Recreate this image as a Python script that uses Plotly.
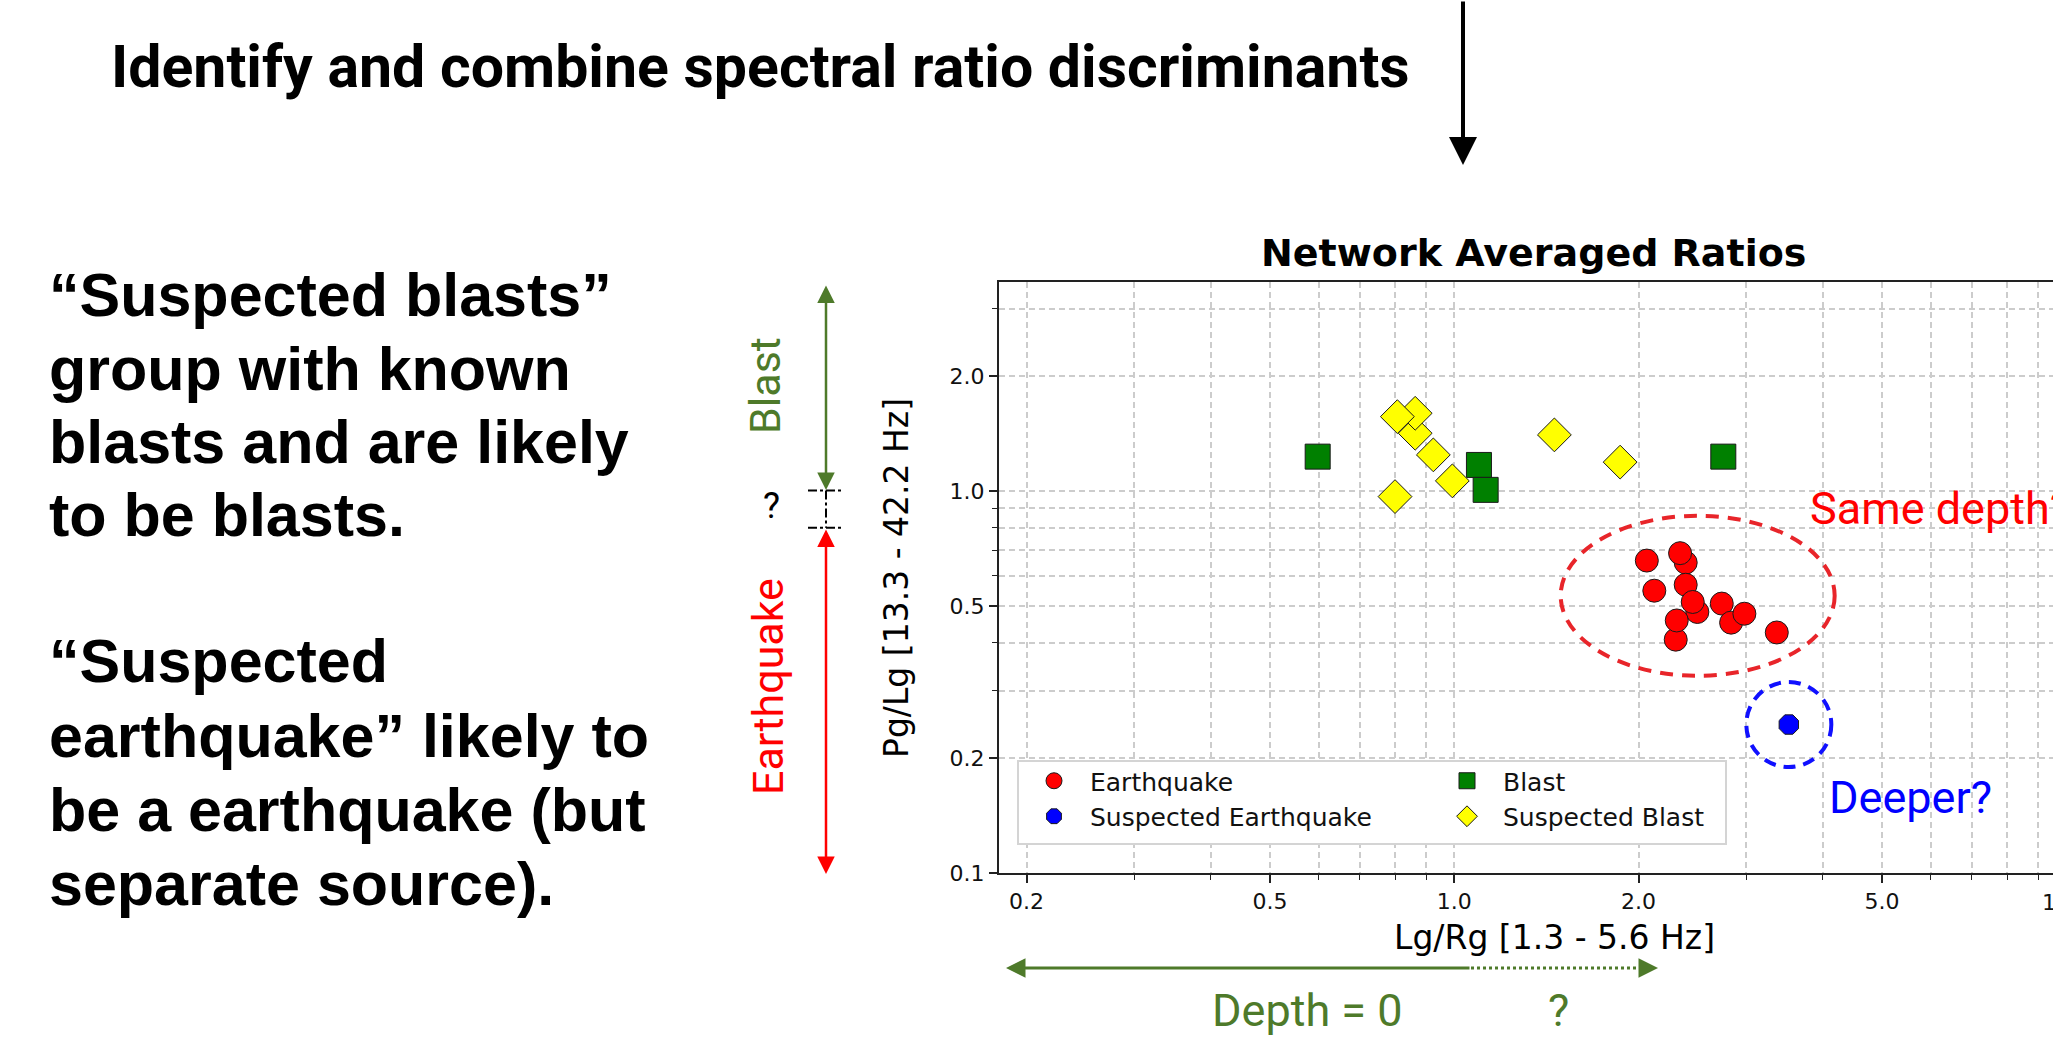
import numpy as np
import plotly.graph_objects as go

# ---------------- data ----------------
eq_x = [2.063, 2.122, 2.388, 2.338, 2.388, 2.495, 2.452, 2.300, 2.309, 2.735, 2.833, 2.978, 3.364]
eq_y = [0.657, 0.548, 0.649, 0.687, 0.568, 0.482, 0.512, 0.408, 0.458, 0.507, 0.452, 0.477, 0.426]

blast_x = [0.598, 1.097, 1.125, 2.751]
blast_y = [1.229, 1.169, 1.006, 1.229]

sblast_x = [0.863, 0.863, 0.807, 0.924, 0.9925, 0.800, 1.457, 1.866]
sblast_y = [1.415, 1.596, 1.564, 1.242, 1.062, 0.966, 1.401, 1.189]

seq_x = [3.52]
seq_y = [0.2446]

x_ticks = [0.2, 0.5, 1.0, 2.0, 5.0]
x_ticktext = ["0.2", "0.5", "1.0", "2.0", "5.0"]
x_minor = [0.3, 0.4, 0.6, 0.7, 0.8, 0.9, 3, 4, 6, 7, 8, 9]
y_ticks = [0.1, 0.2, 0.5, 1.0, 2.0]
y_ticktext = ["0.1", "0.2", "0.5", "1.0", "2.0"]
y_minor = [0.3, 0.4, 0.6, 0.7, 0.8, 0.9, 3.0]

x_lim = [0.1803, 9.51]
y_lim = [0.1, 3.52]

same_depth_center = (2.498, 0.5315)
deeper_center = (3.52, 0.2446)

# ---------------- geometry helpers ----------------
W, H = 2053, 1049
L, T, B, R = 999, 282, 873, 2053
PW, PH = R - L, B - T


def px(x):
    return (x - L) / PW


def py(y):
    return (B - y) / PH


def fx(v):
    a, b = np.log10(x_lim)
    return (np.log10(v) - a) / (b - a)


def fy(v):
    a, b = np.log10(y_lim)
    return (np.log10(v) - a) / (b - a)


NARROW = "Roboto, Liberation Sans, sans-serif"
GREEN = "#4E7A2A"

fig = go.Figure()

edge = dict(color="#1a1a1a", width=1)
fig.add_trace(go.Scatter(x=eq_x, y=eq_y, mode="markers", name="Earthquake", legend="legend",
                         marker=dict(symbol="circle", size=23, color="#FF0000", line=edge)))
fig.add_trace(go.Scatter(x=seq_x, y=seq_y, mode="markers", name="Suspected Earthquake",
                         legend="legend",
                         marker=dict(symbol="octagon", size=21, color="#0000FF", line=edge)))
fig.add_trace(go.Scatter(x=blast_x, y=blast_y, mode="markers", name="Blast", legend="legend2",
                         marker=dict(symbol="square", size=25, color="#008000", line=edge)))
fig.add_trace(go.Scatter(x=sblast_x, y=sblast_y, mode="markers", name="Suspected Blast",
                         legend="legend2",
                         marker=dict(symbol="diamond", size=26, color="#FFFF00", line=edge)))

grid = dict(showgrid=True, gridcolor="#cccccc", griddash="6px,4px", gridwidth=1.5)
leg = dict(yanchor="top", xanchor="left", orientation="v",
           font=dict(family="DejaVu Sans", size=25, color="#111"),
           bgcolor="rgba(0,0,0,0)", borderwidth=0, itemwidth=62)

fig.update_layout(
    width=W, height=H,
    margin=dict(l=L, r=W - R, t=T, b=H - B),
    paper_bgcolor="white", plot_bgcolor="white",
    font=dict(family="DejaVu Sans", color="black"),
    showlegend=True,
    legend=dict(x=px(1018), y=py(758), **leg),
    legend2=dict(x=px(1431), y=py(758), **leg),
    xaxis=dict(
        type="log", range=[np.log10(x_lim[0]), np.log10(x_lim[1])],
        tickvals=x_ticks, ticktext=x_ticktext,
        ticks="outside", ticklen=8, tickwidth=1.5, tickcolor="#222",
        showline=True, linecolor="#222", linewidth=2, mirror=True,
        tickfont=dict(family="DejaVu Sans", size=22, color="#111"),
        zeroline=False,
        minor=dict(tickvals=x_minor, ticks="outside", ticklen=5, tickwidth=1.2,
                   tickcolor="#222", **grid),
        **grid,
    ),
    yaxis=dict(
        type="log", range=[np.log10(y_lim[0]), np.log10(y_lim[1])],
        tickvals=y_ticks, ticktext=y_ticktext,
        ticks="outside", ticklen=8, tickwidth=1.5, tickcolor="#222",
        showline=True, linecolor="#222", linewidth=2, mirror=False,
        tickfont=dict(family="DejaVu Sans", size=22, color="#111"),
        zeroline=False,
        minor=dict(tickvals=y_minor, ticks="outside", ticklen=5, tickwidth=1.2,
                   tickcolor="#222", **grid),
        **grid,
    ),
)

shapes = []
# legend frame
shapes.append(dict(type="rect", xref="paper", yref="paper", layer="above",
                   x0=px(1018), x1=px(1726), y0=py(844), y1=py(761),
                   fillcolor="white", line=dict(color="#d4d4d4", width=2)))


def ellipse(center, rx, ry, color, dash):
    cx, cy = fx(center[0]), fy(center[1])
    return dict(type="circle", xref="paper", yref="paper",
                x0=cx - rx / PW, x1=cx + rx / PW, y0=cy - ry / PH, y1=cy + ry / PH,
                line=dict(color=color, width=4, dash=dash))


shapes.append(ellipse(same_depth_center, 137, 80, "#E8252A", "13px,9px"))
shapes.append(ellipse(deeper_center, 42.5, 42.5, "#1010FF", "12px,8px"))
# dash-dot bracket on the left
for yy in (490.5, 527.8):
    shapes.append(dict(type="line", xref="paper", yref="paper",
                       x0=px(808), x1=px(844), y0=py(yy), y1=py(yy),
                       line=dict(color="black", width=2, dash="dashdot")))
shapes.append(dict(type="line", xref="paper", yref="paper",
                   x0=px(826), x1=px(826), y0=py(490.5), y1=py(527.8),
                   line=dict(color="black", width=2, dash="dashdot")))
# dotted continuation of depth arrow
shapes.append(dict(type="line", xref="paper", yref="paper",
                   x0=px(1471), x1=px(1648), y0=py(968), y1=py(968),
                   line=dict(color=GREEN, width=3, dash="dot")))
fig.update_layout(shapes=shapes)

ann = []


def text(x, y, s, size, color="black", family=NARROW, xanchor="center", angle=0):
    ann.append(dict(x=px(x), y=py(y), xref="paper", yref="paper", text=s, showarrow=False,
                    xanchor=xanchor, yanchor="middle", textangle=angle,
                    font=dict(family=family, size=size, color=color)))


def arrow(xh, yh, xt, yt, color, width, size=1.0, head=2, side="end"):
    ann.append(dict(x=px(xh), y=py(yh), xref="paper", yref="paper", text="",
                    showarrow=True, ax=xt - xh, ay=yt - yh, axref="pixel", ayref="pixel",
                    arrowhead=head, arrowsize=size, arrowwidth=width, arrowcolor=color,
                    arrowside=side, startarrowhead=head, startarrowsize=size, standoff=0,
                    startstandoff=0))


# slide heading
text(109, 66, "<b>Identify and combine spectral ratio discriminants</b>", 59,
     xanchor="left")
# left body text
body = ["“Suspected blasts”", "group with known", "blasts and are likely", "to be blasts.",
        "“Suspected", "earthquake” likely to", "be a earthquake (but", "separate source)."]
ys = [295.3, 368.9, 441.7, 515.4, 660.5, 736.4, 810.0, 883.7]
for s, yy in zip(body, ys):
    text(47, yy, "<b>" + s + "</b>", 61, family="Liberation Sans, Arial, sans-serif",
         xanchor="left")

# plot title and axis labels
text(1533, 253, "<b>Network Averaged Ratios</b>", 38, family="DejaVu Sans")
text(1554, 937, "Lg/Rg [1.3 - 5.6 Hz]", 33, family="DejaVu Sans")
text(896, 578, "Pg/Lg [13.3 - 42.2 Hz]", 33, family="DejaVu Sans", angle=-90)
text(2066.5, 902, "10.0", 22, family="DejaVu Sans", color="#111")

# side annotations
text(765, 386, "Blast", 43, color=GREEN, angle=-90)
text(768, 687, "Earthquake", 43, color="#FF0000", angle=-90)
text(771, 506, "?", 36, color="black")
text(1808, 508, "Same depth?", 45, color="#FF0000", xanchor="left")
text(1910, 797, "Deeper?", 45, color="#0000FF")
text(1307, 1010, "Depth = 0", 45, color=GREEN)
text(1558, 1010, "?", 45, color=GREEN)

# arrows
arrow(1463, 165, 1463, 0, "black", 4, size=1.4)
arrow(826, 490, 826, 284, GREEN, 2.5, size=1.4, side="end+start")
arrow(826, 874, 826, 528, "#FF0000", 2.5, size=1.4, side="end+start")
arrow(1006, 968, 1471, 968, GREEN, 3, size=1.3)
arrow(1658, 968, 1640, 968, GREEN, 3, size=1.3)

fig.update_layout(annotations=ann)

fig.write_html("out.html")
